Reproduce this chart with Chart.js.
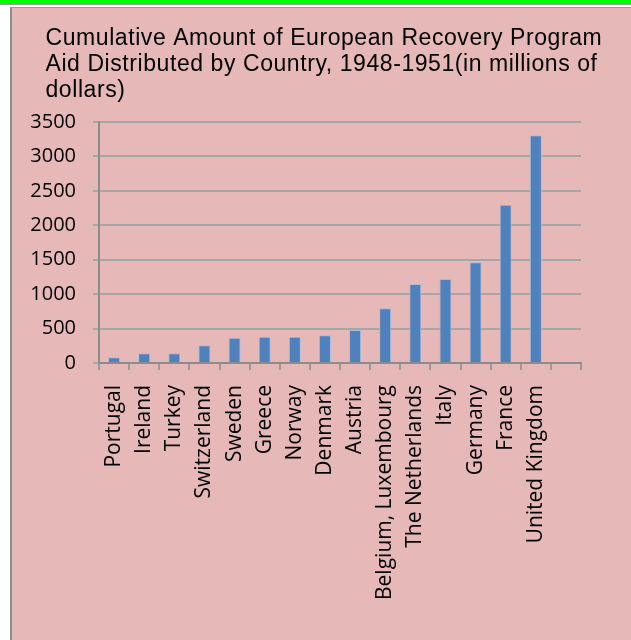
<!DOCTYPE html>
<html>
<head>
<meta charset="utf-8">
<script src="https://cdn.jsdelivr.net/npm/chart.js@4"></script>
<style>
  html, body { margin: 0; padding: 0; background: #fff; }
  .page { position: relative; width: 631px; height: 640px; overflow: hidden; }
  .green-top { position: absolute; left: 0; top: 0; width: 631px; height: 4px; background: #00ff00; }
  .grey-top { position: absolute; left: 0; top: 4px; width: 631px; height: 1px; background: #9a9a9a; }
  .panel {
    position: absolute; left: 10px; top: 7px; width: 621px; height: 633px;
    background: #e6b9b8; border-left: 2px solid #8c8c8c; border-top: 1px solid #9a9a9a;
  }
  #chart { position: absolute; left: 0; top: 0; }
</style>
</head>
<body>
<div class="page">
  <div class="green-top"></div>
  <div class="grey-top"></div>
  <div class="panel"></div>
  <canvas id="chart" width="631" height="640"></canvas>
</div>
<script>
  // chart data
  const countries = [
    'Portugal', 'Ireland', 'Turkey', 'Switzerland', 'Sweden', 'Greece',
    'Norway', 'Denmark', 'Austria', 'Belgium, Luxembourg', 'The Netherlands',
    'Italy', 'Germany', 'France', 'United Kingdom', ''
  ];
  const aidMillions = [
    83, 141, 140, 257, 367, 382, 382, 402, 479, 794, 1147, 1219, 1462, 2299, 3306, null
  ];
  const titleLines = [
    'Cumulative Amount of European Recovery Program',
    'Aid Distributed by Country, 1948-1951(in millions of',
    'dollars)'
  ];

  // title drawn by hand so it can be left aligned like the picture
  const titlePlugin = {
    id: 'leftTitle',
    afterDraw(chart) {
      const ctx = chart.ctx;
      ctx.save();
      ctx.font = '23px "Liberation Sans", Arial, sans-serif';
      ctx.fillStyle = '#000';
      ctx.textAlign = 'left';
      ctx.textBaseline = 'alphabetic';
      // stretch line 1 a bit to the width it has in the picture
      const plain = ctx.measureText(titleLines[0]).width;
      const spacing = Math.max(0, (556 - plain) / (titleLines[0].length - 1));
      if ('letterSpacing' in ctx) ctx.letterSpacing = spacing.toFixed(2) + 'px';
      titleLines.forEach(function(line, i) {
        ctx.fillText(line, 45.5, 45 + i * 26);
      });
      ctx.restore();
    }
  };

  const config = {
    type: 'bar',
    data: {
      labels: countries,
      datasets: [{
        data: aidMillions,
        backgroundColor: '#4f81bd',
        borderColor: '#a3bddf',
        borderWidth: 1,
        borderSkipped: 'bottom',
        barPercentage: 0.4,
        categoryPercentage: 1.0
      }]
    },
    options: {
      responsive: false,
      animation: false,
      layout: { padding: { left: 29, right: 50, top: 122, bottom: 0 } },
      plugins: {
        legend: { display: false },
        title: { display: false },
        tooltip: { enabled: false }
      },
      scales: {
        x: {
          grid: {
            drawOnChartArea: false,
            drawTicks: true,
            tickLength: 7,
            color: '#9a9a9a',
            lineWidth: 2,
            offset: true
          },
          border: { color: '#8c8c8c', width: 2 },
          ticks: {
            autoSkip: false,
            minRotation: 90,
            maxRotation: 90,
            padding: 15,
            color: '#000',
            font: { family: '"Open Sans", sans-serif', size: 21 }
          },
          afterFit(scale) { scale.height = 277; }
        },
        y: {
          min: 0,
          max: 3500,
          grid: {
            color: '#a6a6a6',
            lineWidth: 2,
            tickLength: 6
          },
          border: { color: '#8c8c8c', width: 2 },
          ticks: {
            stepSize: 500,
            padding: 17,
            color: '#000',
            font: { family: '"Open Sans", sans-serif', size: 20 },
            callback: function(value) { return String(value); }
          },
          afterFit(scale) { scale.width = 70; }
        }
      }
    },
    plugins: [titlePlugin]
  };

  const myChart = new Chart(document.getElementById('chart'), config);
</script>
</body>
</html>
